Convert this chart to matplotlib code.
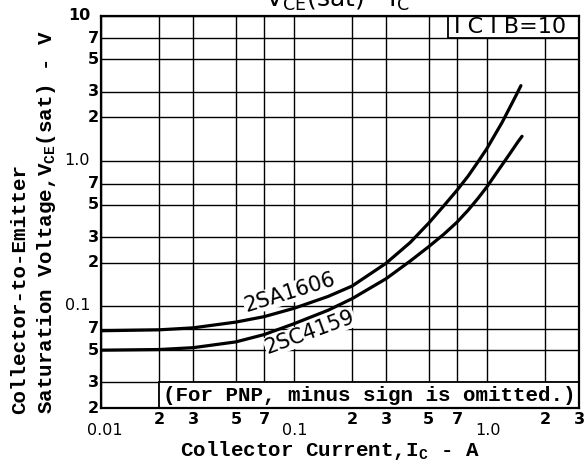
import matplotlib
matplotlib.use("Agg")
import matplotlib.pyplot as plt
import matplotlib.transforms as mtransforms
from matplotlib.patches import Rectangle

# ---- data ----
ic_2sa1606 = [0.01, 0.02, 0.03, 0.05, 0.07, 0.1, 0.15, 0.2, 0.3, 0.4, 0.5, 0.6, 0.7, 0.8,
              0.9, 1.0, 1.2, 1.4, 1.5]
vce_2sa1606 = [0.068, 0.069, 0.0712, 0.078, 0.085, 0.097, 0.117, 0.138, 0.198, 0.275, 0.375,
               0.495, 0.63, 0.79, 0.99, 1.22, 1.85, 2.75, 3.3]

ic_2sc4159 = [0.01, 0.02, 0.03, 0.05, 0.07, 0.1, 0.15, 0.2, 0.3, 0.4, 0.5, 0.6, 0.7, 0.8,
              0.9, 1.0, 1.15, 1.3, 1.45, 1.52]
vce_2sc4159 = [0.050, 0.0505, 0.052, 0.057, 0.064, 0.076, 0.094, 0.113, 0.155, 0.205, 0.258,
               0.315, 0.38, 0.46, 0.555, 0.665, 0.87, 1.1, 1.36, 1.48]

x_minor_ticks = [0.02, 0.03, 0.05, 0.07, 0.2, 0.3, 0.5, 0.7, 2, 3]
x_minor_labels = ["2", "3", "5", "7", "2", "3", "5", "7", "2", "3"]
x_major_ticks = [0.01, 0.1, 1.0]
x_major_labels = ["0.01", "0.1", "1.0"]

y_minor_ticks = [0.02, 0.03, 0.05, 0.07, 0.2, 0.3, 0.5, 0.7, 2, 3, 5, 7, 10]
y_minor_labels = ["2", "3", "5", "7", "2", "3", "5", "7", "2", "3", "5", "7", "10"]
y_major_ticks = [0.1, 1.0]
y_major_labels = ["0.1", "1.0"]

plt.rcParams["mathtext.fontset"] = "custom"
plt.rcParams["mathtext.rm"] = "Liberation Mono:bold"
plt.rcParams["mathtext.it"] = "Liberation Mono:bold"
plt.rcParams["mathtext.bf"] = "Liberation Mono:bold"

fig = plt.figure(figsize=(5.84, 4.73), dpi=100)
W, H = 584, 473
ax = fig.add_axes([101 / W, 1 - 408 / H, 478 / W, (408 - 15.7) / H])
ax.set_xscale("log")
ax.set_yscale("log")
ax.set_xlim(0.01, 3)
ax.set_ylim(0.02, 10)

# grid lines
for xv in x_minor_ticks + x_major_ticks:
    ax.axvline(xv, color="black", lw=1.0, zorder=1)
for yv in y_minor_ticks + y_major_ticks:
    ax.axhline(yv, color="black", lw=1.0, zorder=1)

ax.set_xticks([])
ax.set_yticks([])
ax.minorticks_off()
for s in ax.spines.values():
    s.set_linewidth(1.6)
    s.set_zorder(6)

# curves
ax.plot(ic_2sa1606, vce_2sa1606, color="black", lw=2.3, zorder=4,
        solid_capstyle="round", solid_joinstyle="round")
ax.plot(ic_2sc4159, vce_2sc4159, color="black", lw=2.3, zorder=4,
        solid_capstyle="round", solid_joinstyle="round")

# curve labels
ax.text(0.095, 0.124, "2SA1606", rotation=17, ha="center", va="center",
        fontsize=15, family="DejaVu Sans", rotation_mode="anchor", zorder=5,
        bbox=dict(fc="white", ec="none", pad=0.3))
ax.text(0.121, 0.0662, "2SC4159", rotation=20, ha="center", va="center",
        fontsize=15, family="DejaVu Sans", rotation_mode="anchor", zorder=5,
        bbox=dict(fc="white", ec="none", pad=0.3))

# boxes
bt_xa_ydata = mtransforms.blended_transform_factory(ax.transAxes, ax.transData)
ax.add_patch(Rectangle(((448 - 101) / 478, 7), 1 - (448 - 101) / 478, 3,
                       transform=bt_xa_ydata, fc="white", ec="black", lw=1.3, zorder=3))
ax.text((510 - 101) / 478, 8.3, "I C I B=10", transform=bt_xa_ydata,
        ha="center", va="center", fontsize=16, family="DejaVu Sans", zorder=5)

ax.add_patch(Rectangle((0.02, 0.02), 3 - 0.02, 0.01, fc="white", ec="black",
                       lw=1.3, zorder=3))
ax.text(0.245, 0.0244, "(For PNP, minus sign is omitted.)", ha="center", va="center",
        fontsize=15, family="Liberation Mono", fontweight="bold", zorder=5)

# tick labels (x)
bt_xd_ya = mtransforms.blended_transform_factory(ax.transData, ax.transAxes)
for xv, lab in zip(x_minor_ticks, x_minor_labels):
    tr = mtransforms.offset_copy(bt_xd_ya, fig=fig, x=0, y=-11, units="dots")
    ax.text(xv, 0, lab, transform=tr, ha="center", va="center", fontsize=11.5,
            fontweight="bold", family="DejaVu Sans", clip_on=False)
for xv, lab in zip(x_major_ticks, x_major_labels):
    dx = 4 if xv == 0.01 else 1
    tr = mtransforms.offset_copy(bt_xd_ya, fig=fig, x=dx, y=-22, units="dots")
    ax.text(xv, 0, lab, transform=tr, ha="center", va="center", fontsize=11.5,
            family="DejaVu Sans", clip_on=False)

# tick labels (y)
bt_xa_yd = mtransforms.blended_transform_factory(ax.transAxes, ax.transData)
for yv, lab in zip(y_minor_ticks, y_minor_labels):
    dx = -11 if lab == "10" else -2
    tr = mtransforms.offset_copy(bt_xa_yd, fig=fig, x=dx, y=0, units="dots")
    ax.text(0, yv, lab, transform=tr, ha="right", va="center", fontsize=11.5,
            fontweight="bold", family="DejaVu Sans", clip_on=False)
for yv, lab in zip(y_major_ticks, y_major_labels):
    tr = mtransforms.offset_copy(bt_xa_yd, fig=fig, x=-11, y=1, units="dots")
    ax.text(0, yv, lab, transform=tr, ha="right", va="center", fontsize=11.5,
            family="DejaVu Sans", clip_on=False)

# axis titles
fig.text(330 / W, 1 - 450 / H, r"Collector Current,I$_\mathregular{C}$ - A",
         ha="center", va="center", fontsize=15, family="Liberation Mono",
         fontweight="bold")
fig.text(20 / W, 1 - 414 / H, "Collector-to-Emitter", rotation=90,
         rotation_mode="anchor", ha="left", va="center", fontsize=15,
         family="Liberation Mono", fontweight="bold")
fig.text(46 / W, 1 - 414 / H, r"Saturation Voltage,V$_\mathregular{CE}$(sat) - V",
         rotation=90, rotation_mode="anchor", ha="left", va="center", fontsize=15,
         family="Liberation Mono", fontweight="bold")

# title (cut off at top as in the reference)
fig.text(337 / W, 1 - 7 / H, r"V$_{\mathregular{CE}}$(sat) - I$_{\mathregular{C}}$",
         ha="center", va="baseline", fontsize=18, family="DejaVu Sans")

fig.savefig("out.png", dpi=100)
